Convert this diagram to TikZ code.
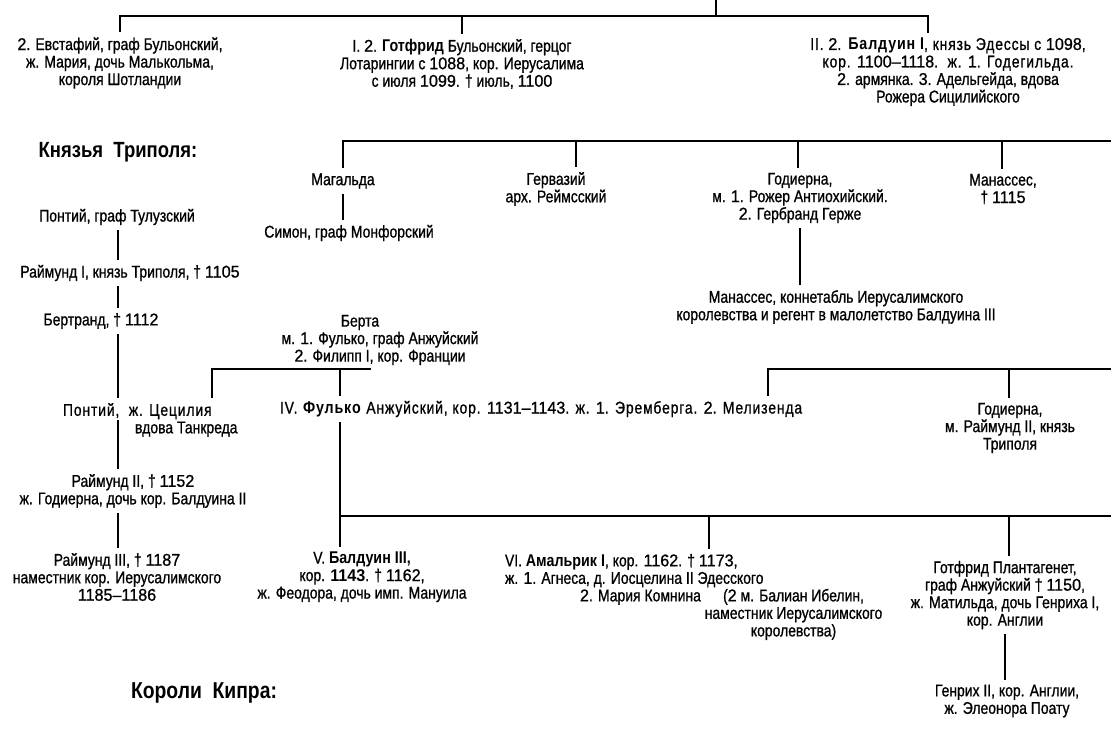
\documentclass[tikz,border=0pt]{standalone}
\usepackage{fontspec}
\setmainfont{Liberation Sans}[UprightFeatures={FakeStretch=0.82,FakeBold=0.9},BoldFeatures={FakeStretch=0.84}]
\newfontfamily\numfont{Liberation Sans}[UprightFeatures={FakeStretch=0.95,FakeBold=0.9},BoldFeatures={FakeStretch=0.95}]
\newcommand\nm[1]{{\numfont#1}}
\newcommand\track[1]{{\addfontfeature{LetterSpace=5}#1}}
\newcommand\widespaces{\spaceskip=5.5pt plus 2pt minus 1pt\relax}

\begin{document}
\widespaces
\begin{tikzpicture}[x=1pt,y=-1pt,
  font=\fontsize{17}{17.5}\selectfont,
  pers/.style={align=center,inner sep=0pt,outer sep=5pt},
  head/.style={font=\fontsize{22}{24}\selectfont\bfseries},
  link/.style={line width=1.3pt}]
\useasboundingbox (0,0) rectangle (1111,732);

\node[pers] (eust) at (120,63) {\nm{2}. Евстафий, граф Бульонский,\\ж. Мария, дочь Малькольма,\\короля Шотландии};
\node[pers] (godf) at (462,64) {I. \nm{2}. \textbf{Готфрид} Бульонский, герцог\\Лотарингии с \nm{1088}, кор. Иерусалима\\с июля \nm{1099}. † июль, \nm{1100}};
\node[pers] (bald1) at (948,72) {\track{II. \nm{2}. \textbf{Балдуин I}, князь Эдессы с \nm{1098},}\\\track{кор. \nm{1100–1118}.\ \ ж. \nm{1}. Годегильда.}\\\nm{2}. армянка. \nm{3}. Адельгейда, вдова\\Рожера Сицилийского};
\coordinate (root) at (716,0);
\coordinate (j0) at (716,16);
\coordinate (s0) at (928,16);
\draw[link] (root) -- (j0);
\draw[link] (eust.north) |- (s0) -- (s0 |- bald1.north);
\draw[link] (godf.north) -- (godf.north |- j0);

\node[head] (trip) at (118,152) {Князья\ \ Триполя:};

\node[pers] (magalda) at (343,181) {Магальда};
\node[pers] (simon) at (349,233) {Симон, граф Монфорский};
\node[pers] (gervas) at (556,189) {Гервазий\\арх. Реймсский};
\node[pers] (godi1) at (800,198) {Годиерна,\\м. \nm{1}. Рожер Антиохийский.\\\nm{2}. Гербранд Герже};
\node[pers] (manas) at (1003,189) {Манассес,\\† \nm{1115}};
\node[pers] (manasc) at (836,307) {Манассес, коннетабль Иерусалимского\\королевства и регент в малолетство Балдуина III};
\coordinate (r1) at (1111,141);
\draw[link] (r1) -- (r1 -| magalda.north) -- (magalda.north);
\foreach \s/\n in {576/gervas, 798/godi1, 1002/manas}{
  \coordinate (k) at (\s,141);
  \draw[link] (k) -- (k |- \n.north);
}
\draw[link] (magalda.south) -- (magalda.south |- simon.north);
\draw[link] (godi1.south) -- (godi1.south |- manasc.north);

\coordinate (colx) at (118,0);
\node[pers] (pont1) at (117,217) {Понтий, граф Тулузский};
\node[pers] (raym1) at (130,273) {Раймунд I, князь Триполя, † \nm{1105}};
\node[pers] (bert) at (101,321) {Бертранд, † \nm{1112}};
\node[pers,align=left,anchor=west] (pont2) at (58,420) {\track{Понтий,\ \ ж. Цецилия}\\\hspace*{72pt}вдова Танкреда};
\node[pers] (raym2) at (133,491) {Раймунд II, † \nm{1152}\\ж. Годиерна, дочь кор. Балдуина II};
\node[pers] (raym3) at (117,577) {Раймунд III, † \nm{1187}\\наместник кор. Иерусалимского\\\nm{1185–1186}};
\draw[link] (colx |- pont1.south) -- (colx |- raym1.north);
\draw[link] (colx |- raym1.south) -- (colx |- bert.north);
\draw[link] (colx |- bert.south) -- (colx |- pont2.north);
\draw[link] (colx |- pont2.center) -- (colx |- raym2.north);
\draw[link] (colx |- raym2.south) -- (colx |- raym3.north);

\node[pers] (berta) at (380,340) {Берта\hspace*{40pt}\\м. \nm{1}. Фулько, граф Анжуйский\\\nm{2}. Филипп I, кор. Франции};
\node[pers,anchor=west] (fulk) at (275,409) {\track{IV. \textbf{Фулько} Анжуйский, кор. \nm{1131–1143}. ж. \nm{1}. Эремберга. \nm{2}. Мелизенда}};
\node[pers] (godi2) at (1010,428) {Годиерна,\\м. Раймунд II, князь\\Триполя};
\coordinate (bl) at (212,369);
\coordinate (bm) at (340,369);
\coordinate (bb) at (370,369);
\draw[link] (bb |- berta.south) -- (bb) -- (bl) -- (bl |- pont2.north);
\draw[link] (bm) -- (bm |- fulk.north);
\coordinate (r2) at (1111,369);
\coordinate (mel) at (768,369);
\coordinate (hod) at (1009,369);
\draw[link] (r2) -- (mel) -- (mel |- fulk.north);
\draw[link] (hod) -- (hod |- godi2.north);

\node[pers] (bald3) at (362,577) {V. \textbf{Балдуин III,}\\кор. \textbf{\nm{1143}}. † \nm{1162},\\ж. Феодора, дочь имп. Мануила};
\node[pers,align=left,anchor=north west] (amal) at (500,549) {VI. \textbf{Амальрик I}, кор. \nm{1162}. † \nm{1173},\\ж. \nm{1}. Агнеса, д. Иосцелина II Эдесского\\\hspace*{75pt}\nm{2}. Мария Комнина\ \begin{tabular}[t]{@{}c@{}}(\nm{2} м. Балиан Ибелин,\\наместник Иерусалимского\\королевства)\end{tabular}};
\node[pers] (gotp) at (1005,595) {Готфрид Плантагенет,\\граф Анжуйский † \nm{1150},\\ж. Матильда, дочь Генриха I,\\кор. Англии};
\node[pers] (henry) at (1007,701) {Генрих II, кор. Англии,\\ж. Элеонора Поату};
\coordinate (fx) at (340,0);
\coordinate (r3) at (1111,516);
\draw[link] (fx |- fulk.south) -- (fx |- bald3.north);
\draw[link] (fx |- r3) -- (r3);
\foreach \s/\n in {709/amal, 1009/gotp}{
  \coordinate (k) at (\s,516);
  \draw[link] (k) -- (k |- \n.north);
}
\draw[link] (gotp.south) -- (gotp.south |- henry.north);

\node[head,font=\fontsize{23}{25}\selectfont\bfseries] (cyp) at (204,693) {Короли\ \ Кипра:};
\end{tikzpicture}
\end{document}
